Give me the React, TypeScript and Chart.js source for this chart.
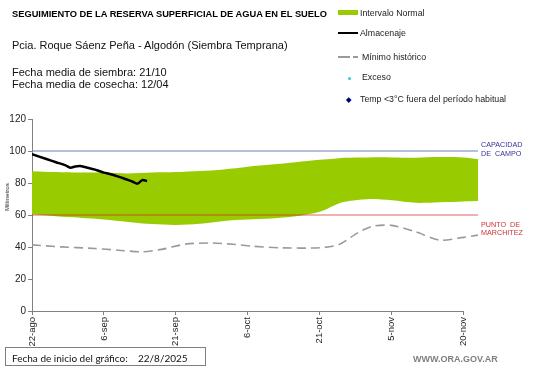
import React, { useEffect, useRef } from "react";
import { Chart, registerables } from "chart.js";

Chart.register(...registerables);

// ---- data ----
const tickDays = [0, 15, 30, 45, 60, 75, 90];
const tickLabels = ["22-ago", "6-sep", "21-sep", "6-oct", "21-oct", "5-nov", "20-nov"];
const lastDay = 93;

const bandDays = [0, 5, 10, 15, 20, 25, 30, 35, 40, 45, 50, 55, 60, 63, 65, 70, 75, 80, 85, 90, 93];
const bandUpper = [87.3, 86.8, 86.5, 86.5, 86, 86.5, 86.8, 87.5, 88.5, 90.2, 91.5, 93, 94.5, 95.2, 95.8, 96, 96, 95.8, 96.2, 96, 95];
const bandLower = [60.5, 59.2, 58.3, 57.2, 55.7, 54.3, 53.8, 54.5, 56.3, 57.2, 57.8, 59.2, 62, 66, 68.2, 69.9, 69.2, 67.6, 68, 68.5, 68.8];

const storageDays = [0, 3, 5, 7, 8, 9, 10, 11, 12, 13, 14, 15, 16, 17, 18, 19, 20, 21, 22, 23, 24];
const storageValues = [98, 95, 93, 91, 89.6, 90.3, 90.6, 90, 89.2, 88.5, 87.5, 86.5, 85.8, 85, 84, 83, 82, 80.8, 79.6, 81.8, 81.2];

const minDays = [0, 6, 13, 18, 23, 27, 32, 37, 42, 46, 52, 60, 64, 68, 71, 75, 80, 85, 90, 93];
const minValues = [41.3, 40.1, 39.1, 38, 37, 38.5, 41.8, 42.5, 41.7, 40.5, 39.5, 39.5, 41.5, 49, 53, 53.5, 49.5, 44.3, 46, 47.4];

const fieldCapacity = 100;
const wiltingPoint = 60;

const pts = (xs: number[], ys: number[]) => xs.map((x, i) => ({ x, y: ys[i] }));

const axisLinePlugin = {
  id: "axisLine",
  afterDatasetsDraw(chart: any) {
    const { ctx, chartArea, scales } = chart;
    const x = scales.x;
    const y = Math.round(chartArea.bottom) + 0.5;
    ctx.save();
    ctx.strokeStyle = "#808080";
    ctx.lineWidth = 1;
    ctx.beginPath();
    ctx.moveTo(x.getPixelForValue(tickDays[0]), y);
    ctx.lineTo(x.getPixelForValue(tickDays[tickDays.length - 1]), y);
    ctx.stroke();
    ctx.restore();
  },
};

const abs = (s: React.CSSProperties): React.CSSProperties => ({
  position: "absolute",
  whiteSpace: "nowrap",
  lineHeight: 1,
  transform: "translateY(-50%)",
  fontFamily: "'Liberation Sans', Arial, sans-serif",
  ...s,
});

export default function App() {
  const ref = useRef<HTMLCanvasElement>(null);

  useEffect(() => {
    document.body.style.margin = "0";
    const canvas = ref.current!;
    Chart.defaults.font.family = "'Liberation Sans', Arial, sans-serif";
    const chart = new Chart(canvas, {
      type: "line",
      data: {
        datasets: [
          {
            label: "Almacenaje",
            data: pts(storageDays, storageValues),
            borderColor: "#000000",
            borderWidth: 2.5,
            pointRadius: 0,
            tension: 0.3,
            fill: false,
            order: 0,
          },
          {
            label: "Mínimo histórico",
            data: pts(minDays, minValues),
            borderColor: "#9a9a9a",
            borderWidth: 1.6,
            borderDash: [9, 5],
            pointRadius: 0,
            tension: 0.25,
            fill: false,
            order: 1,
          },
          {
            label: "Capacidad de campo",
            data: pts([0, lastDay], [fieldCapacity, fieldCapacity]),
            borderColor: "#7080b8",
            borderWidth: 1.2,
            pointRadius: 0,
            fill: false,
            order: 2,
          },
          {
            label: "Punto de marchitez",
            data: pts([0, lastDay], [wiltingPoint, wiltingPoint]),
            borderColor: "rgba(205,40,30,0.7)",
            borderWidth: 1.2,
            pointRadius: 0,
            fill: false,
            order: 2,
          },
          {
            label: "lower",
            data: pts(bandDays, bandLower),
            borderWidth: 0,
            borderColor: "rgba(0,0,0,0)",
            pointRadius: 0,
            tension: 0.3,
            fill: false,
            order: 5,
          },
          {
            label: "Intervalo Normal",
            data: pts(bandDays, bandUpper),
            borderWidth: 0,
            borderColor: "rgba(0,0,0,0)",
            backgroundColor: "#99cc00",
            pointRadius: 0,
            tension: 0.3,
            fill: "-1",
            order: 5,
          },
        ],
      },
      options: {
        animation: false,
        responsive: false,
        events: [],
        layout: { padding: { left: 0, right: 541 - 478, top: 119, bottom: 0 } },
        plugins: { legend: { display: false }, tooltip: { enabled: false } },
        scales: {
          x: {
            type: "linear",
            min: 0,
            max: lastDay,
            afterFit: (s: any) => {
              s.height = 368 - 311;
            },
            afterBuildTicks: (s: any) => {
              s.ticks = tickDays.map((v) => ({ value: v }));
            },
            border: { display: false },
            grid: { drawOnChartArea: false, drawTicks: true, tickLength: 4, color: "#808080" },
            ticks: {
              autoSkip: false,
              maxRotation: 90,
              minRotation: 90,
              padding: 2,
              color: "#222",
              font: { size: 9.5 },
              callback: (v: any) => tickLabels[tickDays.indexOf(Number(v))] ?? "",
            },
          },
          y: {
            min: 0,
            max: 120,
            afterFit: (s: any) => {
              s.width = 32;
            },
            border: { display: true, color: "#808080" },
            grid: { drawOnChartArea: false, drawTicks: true, tickLength: 4, color: "#808080" },
            ticks: { stepSize: 20, padding: 2, color: "#222", font: { size: 10 } },
          },
        },
      },
      plugins: [axisLinePlugin],
    });
    return () => chart.destroy();
  }, []);

  return (
    <div style={{ position: "relative", width: 541, height: 368, overflow: "hidden", background: "#fff" }}>
      <canvas ref={ref} width={541} height={368} style={{ position: "absolute", left: 0, top: 0, width: 541, height: 368 }} />
      <div style={abs({ left: 12, top: 15, fontSize: 9.3, fontWeight: "bold", color: "#000" })}>
        SEGUIMIENTO DE LA RESERVA SUPERFICIAL DE AGUA EN EL SUELO
      </div>
      <div style={abs({ left: 12, top: 45, fontSize: 11, color: "#111" })}>
        Pcia. Roque Sáenz Peña - Algodón (Siembra Temprana)
      </div>
      <div style={abs({ left: 12, top: 72, fontSize: 11, color: "#111" })}>Fecha media de siembra: 21/10</div>
      <div style={abs({ left: 12, top: 83.5, fontSize: 11, color: "#111" })}>Fecha media de cosecha: 12/04</div>

      {/* legend */}
      <div style={{ position: "absolute", left: 338, top: 10, width: 20, height: 5, background: "#99cc00" }} />
      <div style={abs({ left: 360, top: 12.5, fontSize: 8.8, color: "#222" })}>Intervalo Normal</div>
      <div style={{ position: "absolute", left: 338, top: 32, width: 20, height: 2, background: "#000" }} />
      <div style={abs({ left: 360, top: 33, fontSize: 8.8, color: "#222" })}>Almacenaje</div>
      <div style={{ position: "absolute", left: 338, top: 56, width: 12, height: 1.5, background: "#9a9a9a" }} />
      <div style={{ position: "absolute", left: 353, top: 56, width: 5, height: 1.5, background: "#9a9a9a" }} />
      <div style={abs({ left: 362, top: 57, fontSize: 8.8, color: "#222" })}>Mínimo histórico</div>
      <div style={{ position: "absolute", left: 347.5, top: 76.5, width: 3, height: 3, borderRadius: 2, background: "#33cccc" }} />
      <div style={abs({ left: 362, top: 77, fontSize: 8.8, color: "#222" })}>Exceso</div>
      <div style={{ position: "absolute", left: 346.5, top: 97.5, width: 3.5, height: 3.5, background: "#000080", transform: "rotate(45deg)" }} />
      <div style={abs({ left: 360, top: 99, fontSize: 8.8, color: "#222" })}>Temp &lt;3°C fuera del período habitual</div>

      {/* right labels */}
      <div style={abs({ left: 481, top: 145, fontSize: 7.2, color: "#333399" })}>CAPACIDAD</div>
      <div style={abs({ left: 481, top: 154, fontSize: 7.2, color: "#333399", whiteSpace: "pre" })}>DE  CAMPO</div>
      <div style={abs({ left: 481, top: 224.5, fontSize: 7.2, color: "#cc3333", whiteSpace: "pre" })}>PUNTO  DE</div>
      <div style={abs({ left: 481, top: 233, fontSize: 7.2, color: "#cc3333" })}>MARCHITEZ</div>

      {/* y axis title */}
      <div
        style={{
          position: "absolute",
          left: 6.5,
          top: 197,
          fontSize: 6,
          lineHeight: 1,
          whiteSpace: "nowrap",
          color: "#222",
          fontFamily: "'Liberation Sans', Arial, sans-serif",
          transform: "translate(-50%, -50%) rotate(-90deg)",
        }}
      >
        Milímetros
      </div>

      {/* bottom box */}
      <div style={{ position: "absolute", left: 5, top: 347, width: 199, height: 17, border: "1px solid #7f7f7f" }} />
      <div style={abs({ left: 12, top: 357.5, fontSize: 10, color: "#111", fontFamily: "Lato, 'Open Sans', sans-serif" })}>
        Fecha de inicio del gráfico:
      </div>
      <div style={abs({ left: 138, top: 357.5, fontSize: 10, color: "#111", fontFamily: "Lato, 'Open Sans', sans-serif" })}>
        22/8/2025
      </div>
      <div style={abs({ left: 413, top: 359, fontSize: 9, fontWeight: "bold", color: "#7f7f7f" })}>WWW.ORA.GOV.AR</div>
    </div>
  );
}
